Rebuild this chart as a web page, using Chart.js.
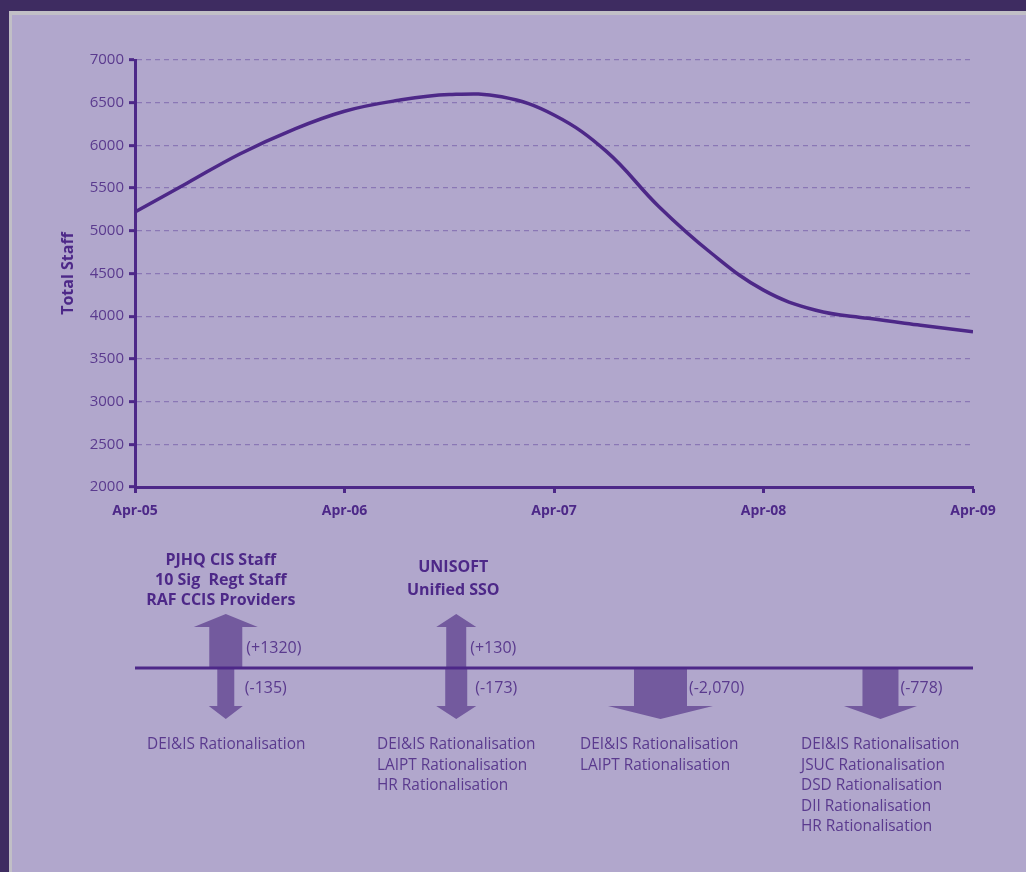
<!DOCTYPE html>
<html>
<head>
<meta charset="utf-8">
<title>Total Staff</title>
<script src="https://cdn.jsdelivr.net/npm/chart.js@4/dist/chart.umd.min.js"></script>
<style>
  html, body { margin: 0; padding: 0; }
  body { width: 1026px; height: 872px; background: #3e2c61; position: relative; overflow: hidden; }
  #panel {
    position: absolute; left: 9px; top: 11px; right: 0; bottom: 0;
    background: #b1a7cc;
    border-left: 3px solid #c1bfc6; border-top: 4px solid #c1bfc6;
  }
  #c { position: absolute; left: 0; top: 0; }
</style>
</head>
<body>
<div id="panel"></div>
<canvas id="c" width="1026" height="872"></canvas>
<script>
// Staff totals, sampled every quarter from Apr-05 (month 0) to Apr-09 (month 48)
const months = [0, 3, 6, 9, 12, 15, 18, 21, 24, 27, 30, 33, 36, 39, 42, 45, 48];
const totalStaff = [5220, 5560, 5900, 6180, 6400, 6525, 6595, 6570, 6356, 5930, 5285, 4740, 4305, 4070, 3975, 3895, 3818];
const yearLabels = ['Apr-05', 'Apr-06', 'Apr-07', 'Apr-08', 'Apr-09'];

// Staff movements shown beneath the timeline (month of change, gains, losses)
const changeMonths = [5.2, 18.4, 30.1, 42.7];
const staffGains = [1320, 130, 0, 0];
const staffLosses = [-135, -173, -2070, -778];
const gainText = ['(+1320)', '(+130)', '', ''];
const lossText = ['(-135)', '(-173)', '(-2,070)', '(-778)'];
const gainSources = [
  ['PJHQ CIS Staff', '10 Sig  Regt Staff', 'RAF CCIS Providers'],
  ['UNISOFT', 'Unified SSO'],
  [],
  []
];
const lossReasons = [
  ['DEI&IS Rationalisation'],
  ['DEI&IS Rationalisation', 'LAIPT Rationalisation', 'HR Rationalisation'],
  ['DEI&IS Rationalisation', 'LAIPT Rationalisation'],
  ['DEI&IS Rationalisation', 'JSUC Rationalisation', 'DSD Rationalisation', 'DII Rationalisation', 'HR Rationalisation']
];

const DARK = '#4d2888';
const TEXT = '#5a3a8e';
const ARROW = '#735a9e';
const GRID = '#8a77b5';
const FONT = "'Open Sans', 'Noto Sans', sans-serif";

// Arrow shapes: half widths of shaft and head for each movement
const upArrowShape = [{shaft: 16.5, head: 32}, {shaft: 10, head: 20}, null, null];
const downArrowShape = [{shaft: 8.5, head: 17}, {shaft: 11, head: 20}, {shaft: 26.5, head: 52.5}, {shaft: 18, head: 36.5}];

const timeline = {
  id: 'timeline',
  afterDraw(chart) {
    const ctx = chart.ctx;
    const xs = chart.scales.x;
    const baseY = 668;
    const upTip = 614, upHead = 627;
    const downHead = 706, downTip = 719;
    ctx.save();
    ctx.fillStyle = ARROW;
    changeMonths.forEach((m, i) => {
      const cx = xs.getPixelForValue(m);
      const up = upArrowShape[i];
      if (staffGains[i] > 0 && up) {
        ctx.beginPath();
        ctx.moveTo(cx - up.shaft, baseY);
        ctx.lineTo(cx - up.shaft, upHead);
        ctx.lineTo(cx - up.head, upHead);
        ctx.lineTo(cx, upTip);
        ctx.lineTo(cx + up.head, upHead);
        ctx.lineTo(cx + up.shaft, upHead);
        ctx.lineTo(cx + up.shaft, baseY);
        ctx.closePath();
        ctx.fill();
      }
      const dn = downArrowShape[i];
      if (staffLosses[i] < 0 && dn) {
        ctx.beginPath();
        ctx.moveTo(cx - dn.shaft, baseY);
        ctx.lineTo(cx - dn.shaft, downHead);
        ctx.lineTo(cx - dn.head, downHead);
        ctx.lineTo(cx, downTip);
        ctx.lineTo(cx + dn.head, downHead);
        ctx.lineTo(cx + dn.shaft, downHead);
        ctx.lineTo(cx + dn.shaft, baseY);
        ctx.closePath();
        ctx.fill();
      }
    });

    // baseline across the full time range
    ctx.strokeStyle = DARK;
    ctx.lineWidth = 3;
    ctx.beginPath();
    ctx.moveTo(xs.left, baseY);
    ctx.lineTo(xs.right, baseY);
    ctx.stroke();

    ctx.textBaseline = 'middle';
    changeMonths.forEach((m, i) => {
      const cx = xs.getPixelForValue(m);
      const up = upArrowShape[i];
      const dn = downArrowShape[i];
      ctx.font = '16px ' + FONT;
      ctx.fillStyle = TEXT;
      ctx.textAlign = 'left';
      if (gainText[i]) ctx.fillText(gainText[i], cx + (up ? up.shaft : 0) + 4, 648);
      if (lossText[i]) ctx.fillText(lossText[i], cx + Math.max(dn.shaft, 17) + 2, 688);

      // sources of new staff, above the up arrow
      ctx.font = 'bold 16px ' + FONT;
      ctx.fillStyle = DARK;
      ctx.textAlign = 'center';
      const src = gainSources[i];
      const top = src.length === 3 ? 560 : 567;
      const step = src.length === 3 ? 20 : 23;
      src.forEach((s, k) => ctx.fillText(s, cx - 5 + (src.length === 2 ? 2 : 0), top + k * step));

      // reasons for reductions, listed under each arrow
      ctx.font = '15.4px ' + FONT;
      ctx.fillStyle = TEXT;
      ctx.textAlign = 'left';
      const lx = [147, 377, 580, 801][i];
      lossReasons[i].forEach((s, k) => ctx.fillText(s, lx, 745 + k * 20.4));
    });
    ctx.restore();
  }
};

Chart.defaults.font.family = FONT;

new Chart(document.getElementById('c'), {
  type: 'line',
  data: {
    datasets: [{
      data: months.map((m, i) => ({x: m, y: totalStaff[i]})),
      borderColor: DARK,
      borderWidth: 3.5,
      pointRadius: 0,
      tension: 0.4,
      fill: false
    }]
  },
  options: {
    responsive: false,
    animation: false,
    events: [],
    layout: { padding: { left: 55, top: 60, right: 53, bottom: 345 } },
    plugins: { legend: { display: false }, tooltip: { enabled: false } },
    scales: {
      x: {
        type: 'linear',
        min: 0, max: 48,
        afterFit(s) { s.height = 40; },
        ticks: {
          stepSize: 12,
          autoSkip: false,
          maxRotation: 0,
          padding: 10,
          color: DARK,
          font: { size: 14, weight: 'bold' },
          callback: v => yearLabels[v / 12]
        },
        grid: { drawOnChartArea: false, drawTicks: true, tickLength: 6, tickColor: DARK, tickWidth: 3 },
        border: { color: DARK, width: 3 }
      },
      y: {
        min: 2000, max: 7000,
        afterFit(s) { s.width = 80; },
        ticks: { stepSize: 500, padding: 5, color: TEXT, font: { size: 15 }, callback: v => String(v) },
        grid: { color: GRID, lineWidth: 1.3, tickLength: 6, tickColor: DARK, tickWidth: 3, tickBorderDash: [] },
        border: { color: DARK, width: 3, dash: [5, 4] },
        title: { display: true, text: 'Total Staff', color: DARK, font: { size: 16, weight: 'bold' }, padding: { top: 4, bottom: 4 } }
      }
    }
  },
  plugins: [timeline]
});
</script>
</body>
</html>
